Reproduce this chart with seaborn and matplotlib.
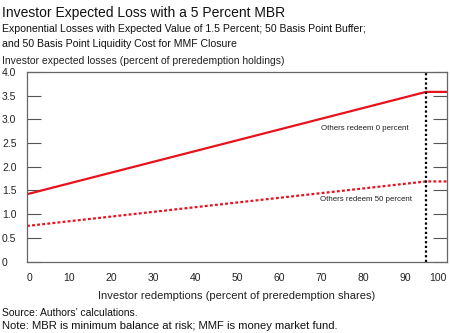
import matplotlib
matplotlib.use("Agg")
import matplotlib.pyplot as plt
import seaborn as sns
import pandas as pd
from matplotlib.ticker import MultipleLocator

sns.set_theme(style="white")
plt.rcParams["font.family"] = ["Liberation Sans", "DejaVu Sans"]

# Investor redemptions (percent of preredemption shares)
redemptions = [0, 95, 100]
# Expected losses (percent of preredemption holdings)
loss_others_0 = [1.42, 3.58, 3.58]
loss_others_50 = [0.75, 1.69, 1.69]
mbr_threshold = 95

x_ticks = list(range(0, 101, 10))
y_ticks = [0, 0.5, 1.0, 1.5, 2.0, 2.5, 3.0, 3.5, 4.0]
y_labels = ["0", "0.5", "1.0", "1.5", "2.0", "2.5", "3.0", "3.5", "4.0"]

df = pd.DataFrame({
    "redemptions": redemptions * 2,
    "loss": loss_others_0 + loss_others_50,
    "series": ["Others redeem 0 percent"] * 3 + ["Others redeem 50 percent"] * 3,
})

fig = plt.figure(figsize=(4.5, 3.33), dpi=100)
ax = fig.add_axes([27 / 450, 1 - 261.5 / 333, 420 / 450, 189.5 / 333])

red = "#e8121c"
sns.lineplot(data=df, x="redemptions", y="loss", hue="series", style="series",
             palette=[red, red], dashes=[(None, None), (1.3, 1.0)],
             linewidth=1.6, legend=False, ax=ax)
ax.axvline(mbr_threshold, color="black", linestyle=(0, (1, 1.1)), linewidth=1.6)

ax.set_xlim(0, 100)
ax.set_ylim(0, 4.0)
ax.set_xticks(x_ticks)
ax.xaxis.set_minor_locator(MultipleLocator(5))
ax.set_yticks(y_ticks)
ax.set_yticklabels(y_labels)
ax.tick_params(axis="x", which="both", direction="in", length=10, width=0.8,
               color="#555555", labelsize=7.5, pad=8, labelcolor="#222222")
ax.tick_params(axis="y", which="both", direction="in", length=10, width=0.8,
               color="#555555", labelsize=7.5, pad=18, left=True, right=True,
               labelcolor="#222222")
for lbl in ax.get_yticklabels():
    lbl.set_horizontalalignment("left")
xlabels = ax.get_xticklabels()
xlabels[0].set_horizontalalignment("left")
xlabels[-1].set_horizontalalignment("right")
for s in ax.spines.values():
    s.set_color("#666666")
    s.set_linewidth(0.9)
ax.set_xlabel("Investor redemptions (percent of preredemption shares)",
              fontsize=8, color="#222222", labelpad=6)
ax.set_ylabel("")

ax.text(80.5, 2.81, "Others redeem 0 percent", fontsize=5.7, ha="center",
        va="center", color="#222222")
ax.text(80.8, 1.31, "Others redeem 50 percent", fontsize=5.7, ha="center",
        va="center", color="#222222")

fig.text(2 / 450, 1 - 13 / 333, "Investor Expected Loss with a 5 Percent MBR",
         fontsize=10, va="center", color="#111111")
fig.text(2 / 450, 1 - 29 / 333,
         "Exponential Losses with Expected Value of 1.5 Percent; 50 Basis Point Buffer;",
         fontsize=7.6, va="center", color="#111111")
fig.text(2 / 450, 1 - 44 / 333,
         "and 50 Basis Point Liquidity Cost for MMF Closure",
         fontsize=7.6, va="center", color="#111111")
fig.text(2 / 450, 1 - 61 / 333,
         "Investor expected losses (percent of preredemption holdings)",
         fontsize=7.5, va="center", color="#222222")
fig.text(2 / 450, 1 - 313 / 333, "Source: Authors\u2019 calculations.",
         fontsize=7.5, va="center", color="#111111")
fig.text(2 / 450, 1 - 326 / 333,
         "Note: MBR is minimum balance at risk; MMF is money market fund.",
         fontsize=8.1, va="center", color="#111111")

fig.savefig("out.png", dpi=100)
